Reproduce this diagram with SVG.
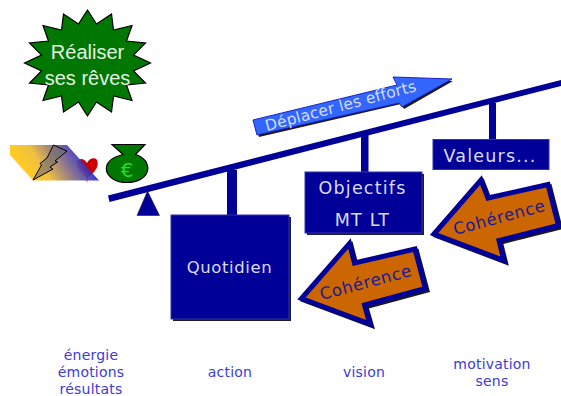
<svg xmlns="http://www.w3.org/2000/svg" width="561" height="396" viewBox="0 0 561 396">
<style>
text{font-family:"DejaVu Sans",Verdana,sans-serif;text-anchor:middle}
.box{fill:#000099;stroke:#3333aa;stroke-width:1}
.sh{fill:#1a1a33}
.lt{fill:#dcdcf5;font-size:16.500px;letter-spacing:.6px}
.lg{fill:#dcdcf5;font-size:17.500px;letter-spacing:1.200px}
.lb{fill:#3b3bd8;font-size:14px;letter-spacing:.2px}
.sf{font-family:"Liberation Sans",Arial,sans-serif;font-size:20px;fill:#e4f2e4}
.coh{fill:#cc6600;stroke:#000099;stroke-width:5;stroke-miterlimit:10}
.cs{fill:#1a1a1a;stroke:#1a1a1a;stroke-width:4;stroke-miterlimit:10}
.ct{fill:#1a1a99;font-size:16.500px;letter-spacing:.7px}
.bar{fill:#000099}
</style>
<defs>
<linearGradient id="g" gradientUnits="userSpaceOnUse" x1="28" y1="178" x2="78" y2="146">
<stop offset="0" stop-color="#ffcc22"/><stop offset=".3" stop-color="#f0c040"/><stop offset="1" stop-color="#2222cc" stop-opacity=".9"/>
</linearGradient>
</defs>
<g id="star">
<polygon points="87.5,10 96.5,24 111.5,14 113.5,30 132,25.500 126.500,41 145.500,43 133.500,55 150.500,63 133.500,71 145.500,83 126.500,85 132,100.500 113.500,96 111.500,112 96.500,102 87.500,116 78.500,102 63.500,112 61.500,96 43,100.500 48.500,85 29.500,83 41.500,71 24.500,63 41.500,55 29.500,43 48.500,41 43,25.500 61.500,30 63.500,14 78.500,24" fill="#007700" stroke="#000" stroke-width="1.2"/>
<text class="sf" x="87.5" y="59">Réaliser</text>
<text class="sf" x="87.5" y="85">ses rêves</text>
</g>
<g id="heart"><path d="M87 183 L86 177 C80 172 76 166 77 162 C79 158 84 158 87 163 C89 158 95 157 97 160 C100 167 93 174 88 177 Z" fill="#cc0000"/></g>
<g id="para">
<polygon points="10,145 67,145 99,180.500 33,180.500 10,155" fill="url(#g)"/>
<polygon points="53.500,145 67,151 55,161 57.500,162 50,167 53,169 33,180 41.500,165 40,163.500 47,158" fill="#6f6a70" fill-opacity=".6" stroke="#000" stroke-width="1"/>
</g>
<g id="bag">
<path d="M112 144.500 L145 144.500 L135.500 154.500 C144 157 148 163 147.800 169 C147 178 137 182.500 127 182.500 C116 182.500 106.500 177 106.300 168.500 C106.500 162 113 157 123 154.500 Z" fill="#007700" stroke="#000" stroke-width="1.200"/>
<text x="127" y="177" font-size="20" fill="#22dd22">€</text>
</g>
<g id="connectors">
<polygon class="bar" points="108,195.500 561,80 561,86 109.500,202"/>
<rect class="bar" x="227" y="170" width="10" height="46"/>
<rect class="bar" x="361" y="135" width="7.500" height="38"/>
<rect class="bar" x="489" y="103" width="7" height="37"/>
</g>
<g id="pivot"><polygon points="147.500,191 137,215.500 159.500,215.500" fill="#000099" stroke="#223" stroke-width=".6"/></g>
<g id="quotidien">
<rect class="sh" x="173" y="217" width="118" height="104"/>
<rect class="box" x="171" y="215" width="118" height="104"/>
<text class="lt" x="229.500" y="272.500">Quotidien</text>
</g>
<g id="objectifs">
<rect class="sh" x="307" y="174" width="117" height="61"/>
<rect class="box" x="305" y="172" width="117" height="61"/>
<text class="lg" x="362.500" y="194">Objectifs</text>
<text class="lg" x="362.500" y="226">MT LT</text>
</g>
<g id="valeurs">
<rect class="box" x="433" y="139.500" width="116" height="30" stroke="#5555cc"/>
<text class="lg" x="490" y="161.500">Valeurs...</text>
</g>
<g id="deplacer">
<polygon points="255,122 259,137 401,104 404,109 453,81 395,79 399,87" fill="#1a1a1a"/>
<polygon points="253,120 257,135 399,103 402,107 452,79 393,77 397,85" fill="#3366ff" stroke="#1a22cc" stroke-width="1"/>
<text x="342" y="111" font-size="15.500" fill="#cfdcff" letter-spacing=".2" transform="rotate(-15 342 111)">Déplacer les efforts</text>
</g>
<g id="coherence1">
<polygon class="cs" points="303.500,300.500 351.500,245.500 356.500,265 417,251 427.500,290.500 366.500,307 372,326"/>
<polygon class="coh" points="301.500,298.500 349.500,243.500 354.500,263 415,249 425.500,288.500 364.500,305 370,324"/>
<text class="ct" x="366" y="288" transform="rotate(-15 366 283)">Cohérence</text>
</g>
<g id="coherence2">
<polygon class="cs" points="436,236 483,182 490,200 550,186.500 560.500,227.500 501,242.500 506,262.500"/>
<polygon class="coh" points="434,234 481,180 488,198 548,184.500 558.500,225.500 499,240.500 504,260.500"/>
<text class="ct" x="499.500" y="223" transform="rotate(-15 499.500 218)">Cohérence</text>
</g>
<g id="labels">
<text class="lb" x="91" y="360">énergie</text>
<text class="lb" x="91" y="377">émotions</text>
<text class="lb" x="91" y="394">résultats</text>
<text class="lb" x="230" y="377">action</text>
<text class="lb" x="364" y="377">vision</text>
<text class="lb" x="492" y="369">motivation</text>
<text class="lb" x="492" y="386">sens</text>
</g>
</svg>
